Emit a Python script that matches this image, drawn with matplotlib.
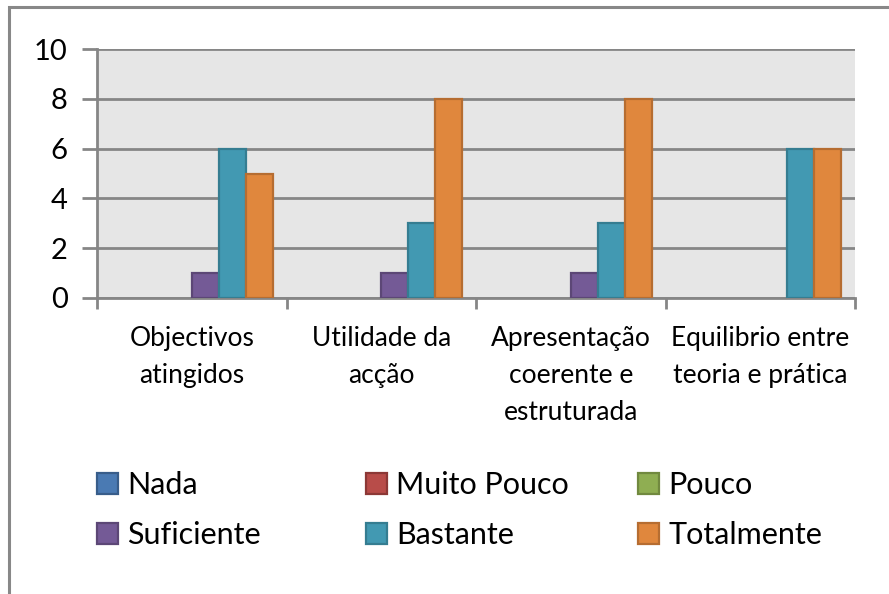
import numpy as np
import matplotlib
matplotlib.use("Agg")
import matplotlib.pyplot as plt
from matplotlib.patches import Rectangle, Patch

categories = ["Objectivos\natingidos", "Utilidade da\nacção",
              "Apresentação\ncoerente e\nestruturada", "Equilibrio entre\nteoria e prática"]
series = ["Nada", "Muito Pouco", "Pouco", "Suficiente", "Bastante", "Totalmente"]
nada = [0, 0, 0, 0]
muito_pouco = [0, 0, 0, 0]
pouco = [0, 0, 0, 0]
suficiente = [1, 1, 1, 0]
bastante = [6, 3, 3, 6]
totalmente = [5, 8, 8, 6]
values = [nada, muito_pouco, pouco, suficiente, bastante, totalmente]

fills = ["#4a7ab3", "#b84c49", "#8fae52", "#745a96", "#4299b2", "#e0873d"]
edges = ["#385d8a", "#8c3836", "#71893f", "#5c4776", "#357d91", "#b66d31"]

plt.rcParams['font.family'] = ['Lato', 'DejaVu Sans']

fig = plt.figure(figsize=(8.89, 5.94), dpi=100)
# outer chart border
fig.patches.append(Rectangle((9/889, -0.1), 1.2, 1 - 7/594 + 0.1, transform=fig.transFigure,
                             fill=False, edgecolor="#888888", linewidth=2.2))

ax = fig.add_axes([97/889, 1 - 298/594, (855-97)/889, (298-49)/594])
ax.set_facecolor("#e6e6e6")

x = np.arange(len(categories))
w = 1/7
handles = []
for i, (name, vals) in enumerate(zip(series, values)):
    off = (i - 2.5) * w
    vals = np.array(vals, dtype=float)
    show = vals > 0
    if show.any():
        ax.bar(x[show] + off, vals[show], width=w, color=fills[i], edgecolor=edges[i],
               linewidth=1.6, zorder=3)
    handles.append(Patch(facecolor=fills[i], edgecolor=edges[i], linewidth=1.6, label=name))

ax.set_xlim(-0.5, len(categories) - 0.5)
ax.set_ylim(0, 10)
ax.set_yticks(range(0, 11, 2))
ax.yaxis.grid(True, color="#868686", linewidth=2, zorder=1)
ax.set_axisbelow(True)
for s in ["top", "right"]:
    ax.spines[s].set_visible(False)
for s in ["left", "bottom"]:
    ax.spines[s].set_color("#868686")
    ax.spines[s].set_linewidth(2)
ax.tick_params(axis="y", length=11, width=2, color="#868686", labelsize=21, pad=10)
ax.set_xticks(np.arange(-0.5, len(categories)), minor=False)
ax.set_xticklabels([])
ax.tick_params(axis="x", length=8, width=2, color="#868686")
ax.set_xticks(x, minor=True)
ax.set_xticklabels(categories, minor=True, fontsize=19, linespacing=1.6, va="top")
ax.tick_params(axis="x", which="minor", length=0, pad=20)

# legend: three columns of two rows, placed like the reference
col_x = [97, 366, 638]
for c in range(3):
    pair = [c, c + 3]
    fig.legend([handles[k] for k in pair], [series[k] for k in pair], ncol=1,
               loc="center left", bbox_to_anchor=(col_x[c]/889, 1 - 510/594), frameon=False,
               fontsize=22, handlelength=0.69, handleheight=0.69, handletextpad=0.3,
               labelspacing=0.72, borderpad=0, borderaxespad=0)

fig.savefig("out.png", dpi=100)
